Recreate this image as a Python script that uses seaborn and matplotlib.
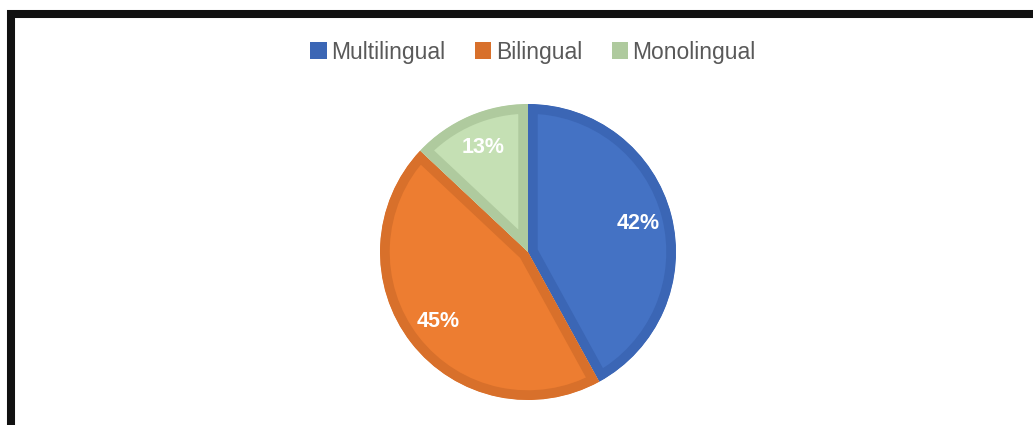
import matplotlib
matplotlib.use("Agg")
import matplotlib.pyplot as plt
import seaborn as sns
from matplotlib.patches import Rectangle, Patch

# données
categories = ["Multilingual", "Bilingual", "Monolingual"]
shares = [42, 45, 13]
fill_colors = ["#4472C4", "#ED7D31", "#C5E0B4"]
edge_colors = ["#3B66B5", "#D8702B", "#AFCA9E"]

sns.set_theme(style="white")
plt.rcParams["font.family"] = ["Liberation Sans", "DejaVu Sans"]

fig = plt.figure(figsize=(10.33, 4.25), dpi=100)

# cadre noir (coupé à droite et en bas)
fig.patches.append(Rectangle((10.5 / 1033, -0.2), 1.3, 1 - 14 / 425 + 0.2,
                             transform=fig.transFigure, fill=False,
                             edgecolor="#111111", linewidth=5.8, zorder=0))

# camembert
cx, cy, r = 528, 252, 148
ax = fig.add_axes([(cx - r) / 1033, (425 - cy - r) / 425, 2 * r / 1033, 2 * r / 425])
wedges, texts, autotexts = ax.pie(
    shares, colors=fill_colors, startangle=90, counterclock=False,
    autopct="%d%%", pctdistance=0.77,
    textprops=dict(color="white", fontsize=15.5, fontweight="bold"))
# bordure plus foncée à l'intérieur de chaque part
for w, ec in zip(wedges, edge_colors):
    w.set_edgecolor(ec)
    w.set_linewidth(14)
    w.set_clip_on(True)
    w.set_clip_path(w)
ax.set_xlim(-1, 1)
ax.set_ylim(-1, 1)
ax.set_aspect("equal")
ax.axis("off")

# légende
handles = [Patch(facecolor=ec, edgecolor="none") for ec in edge_colors]
fig.legend(handles, categories, loc="center", bbox_to_anchor=(533 / 1033, 1 - 52 / 425),
           ncol=3, frameon=False, fontsize=16.5, labelcolor="#595959",
           handlelength=0.7, handleheight=0.7, handletextpad=0.2, columnspacing=1.3)

fig.savefig("out.png", dpi=100)
